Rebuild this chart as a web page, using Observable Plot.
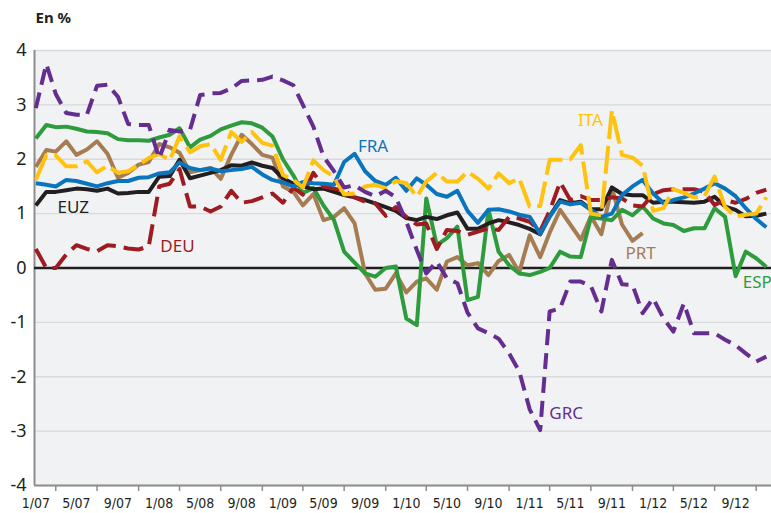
<!DOCTYPE html>
<html>
<head>
<meta charset="utf-8">
<script src="https://cdn.jsdelivr.net/npm/d3@7"></script>
<script src="https://cdn.jsdelivr.net/npm/@observablehq/plot@0.6"></script>
<style>
  html, body { margin: 0; padding: 0; background: #ffffff; }
  #chart svg { display: block; }
</style>
</head>
<body>
<div id="chart"></div>
<script>
// ---- Data (monthly, Jan 2007 – Dec 2012), in % ----
const EUZ = [1.15,1.40,1.40,1.43,1.46,1.45,1.42,1.46,1.37,1.38,1.40,1.40,
  1.68,1.69,1.99,1.65,1.70,1.75,1.80,1.89,1.88,1.94,1.88,1.84,
  1.65,1.55,1.50,1.45,1.46,1.40,1.34,1.30,1.25,1.19,1.12,1.05,
  0.92,0.88,0.94,0.90,0.97,1.02,0.72,0.72,0.82,0.88,0.84,0.79,
  0.72,0.62,0.95,1.25,1.19,1.22,1.08,1.08,1.48,1.36,1.34,1.34,
  1.20,1.22,1.22,1.21,1.20,1.22,1.31,1.13,1.07,0.95,0.96,1.00];
const FRA = [1.56,1.53,1.50,1.62,1.60,1.55,1.50,1.56,1.60,1.60,1.66,1.67,
  1.74,1.76,1.94,1.84,1.80,1.83,1.78,1.80,1.82,1.86,1.72,1.62,
  1.57,1.50,1.58,1.56,1.55,1.53,1.95,2.10,1.78,1.60,1.53,1.66,
  1.42,1.65,1.53,1.36,1.31,1.42,1.05,0.83,1.07,1.08,1.04,0.98,
  0.94,0.63,0.94,1.22,1.17,1.20,1.07,0.94,1.00,1.34,1.50,1.62,
  1.37,1.19,1.25,1.30,1.37,1.46,1.56,1.46,1.32,1.10,0.90,0.75];
const ITA = [1.62,2.08,2.07,1.87,1.87,1.96,1.76,1.88,1.75,1.78,1.90,2.02,
  2.10,1.98,2.42,2.13,2.24,2.28,1.99,2.50,2.32,2.50,2.30,2.25,
  1.71,1.62,1.48,1.98,1.80,1.68,1.35,1.37,1.50,1.53,1.47,1.60,
  1.56,1.31,1.59,1.75,1.59,1.59,1.77,1.64,1.46,1.74,1.56,1.65,
  1.13,1.14,1.99,1.99,2.00,2.26,1.00,0.97,2.90,2.08,2.03,1.88,
  1.05,1.10,1.45,1.38,1.30,1.32,1.68,1.12,0.95,0.98,1.00,1.30];
const DEU = [0.35,0.00,0.00,0.25,0.42,0.35,0.31,0.42,0.40,0.36,0.34,0.40,
  1.50,1.55,1.82,1.13,1.13,1.04,1.13,1.42,1.20,1.23,1.30,1.37,
  1.20,1.48,1.35,1.75,1.50,1.46,1.42,1.30,1.22,1.19,0.96,1.12,
  0.94,0.80,0.82,0.35,0.70,0.68,0.61,0.67,0.73,0.70,0.94,0.91,
  0.85,0.68,1.05,1.58,1.25,1.32,1.25,1.25,1.30,1.28,1.15,1.13,
  1.36,1.43,1.45,1.45,1.45,1.40,1.16,1.25,1.20,1.27,1.38,1.44];
const GRC = [2.94,3.75,3.20,2.85,2.82,2.82,3.35,3.37,3.15,2.65,2.63,2.63,
  2.02,2.54,2.51,2.54,3.18,3.21,3.22,3.30,3.44,3.45,3.46,3.52,
  3.45,3.36,3.00,2.60,2.05,1.78,1.48,1.52,1.40,1.32,1.42,1.30,
  0.85,0.33,-0.10,0.12,-0.19,-0.28,-0.82,-1.11,-1.20,-1.30,-1.57,-1.90,
  -2.60,-2.98,-0.80,-0.74,-0.25,-0.25,-0.33,-0.80,0.15,-0.30,-0.31,-0.83,
  -0.56,-0.93,-1.17,-0.65,-1.20,-1.20,-1.20,-1.32,-1.42,-1.57,-1.72,-1.63];
const PRT = [1.86,2.17,2.14,2.33,2.08,2.18,2.33,2.10,1.66,1.75,1.90,1.95,
  2.28,2.22,2.12,1.76,1.80,1.84,1.64,2.08,2.45,2.28,2.08,2.03,
  1.50,1.40,1.15,1.36,0.88,0.94,1.10,0.82,-0.10,-0.40,-0.38,-0.10,
  -0.45,-0.25,-0.19,-0.40,0.12,0.20,0.05,0.09,-0.13,0.13,0.24,-0.08,
  0.60,0.20,0.65,1.07,0.80,0.52,0.95,0.62,1.48,0.80,0.50,0.64,
  null,null,null,null,null,null,null,null,null,null,null,null];
const ESP = [2.38,2.63,2.59,2.60,2.56,2.51,2.50,2.48,2.37,2.35,2.35,2.34,
  2.40,2.45,2.57,2.22,2.36,2.43,2.55,2.62,2.68,2.66,2.58,2.42,
  2.00,1.70,1.38,1.47,1.15,0.88,0.30,0.10,-0.10,-0.16,0.00,0.03,
  -0.93,-1.05,1.28,0.42,0.55,0.76,-0.59,-0.53,1.07,0.30,0.05,-0.10,
  -0.13,-0.07,0.00,0.30,0.21,0.20,0.93,0.91,0.88,1.07,0.97,1.13,
  0.91,0.82,0.79,0.68,0.73,0.73,1.10,0.94,-0.15,0.30,0.18,0.02];

const xTickLabels = ["1/07","5/07","9/07","1/08","5/08","9/08","1/09","5/09","9/09",
  "1/10","5/10","9/10","1/11","5/11","9/11","1/12","5/12","9/12"];
const yTicks = [-4,-3,-2,-1,0,1,2,3,4];

// ---- helpers ----
const MS_MONTH = 30.4375 * 86400000;
const T0 = Date.UTC(2007, 0, 1);
const monthPos = m => new Date(T0 + m * MS_MONTH);
const months = d3.range(72).map(i => new Date(Date.UTC(2007, i, 1)));
const parseLabel = s => { const [m, y] = s.split("/").map(Number); return new Date(Date.UTC(2000 + y, m - 1, 1)); };
const labelDates = xTickLabels.map(parseLabel);
const tickDates = labelDates.map(d => new Date(Date.UTC(d.getUTCFullYear(), d.getUTCMonth() + 2, 1)));
const fmt = d => `${d.getUTCMonth() + 1}/${String(d.getUTCFullYear()).slice(2)}`;

const series = [
  {name: "PRT", values: PRT, color: "#a67c52", dash: null},
  {name: "ESP", values: ESP, color: "#2e9b3c", dash: null},
  {name: "EUZ", values: EUZ, color: "#231f20", dash: null},
  {name: "DEU", values: DEU, color: "#9e1b22", dash: "20,8"},
  {name: "FRA", values: FRA, color: "#0a75bd", dash: null},
  {name: "ITA", values: ITA, color: "#ffc20e", dash: "28,7"},
  {name: "GRC", values: GRC, color: "#662d91", dash: "16,8"}
];
const colorOf = Object.fromEntries(series.map(s => [s.name, s.color]));

const labels = [
  {name: "EUZ", m: 2.1, v: 1.12},
  {name: "DEU", m: 12.1, v: 0.40},
  {name: "FRA", m: 31.3, v: 2.24},
  {name: "ITA", m: 52.7, v: 2.72},
  {name: "PRT", m: 57.3, v: 0.26},
  {name: "GRC", m: 49.9, v: -2.67},
  {name: "ESP", m: 68.7, v: -0.26}
];

const FONT = "'Noto Sans', 'Open Sans', sans-serif";
const NARROW = "'Liberation Sans Narrow', 'DejaVu Sans Condensed', sans-serif";

const chart = Plot.plot({
  width: 771,
  height: 513,
  marginLeft: 34,
  marginRight: 0,
  marginTop: 50,
  marginBottom: 28,
  style: {fontFamily: FONT, background: "#ffffff", color: "#231f20", overflow: "visible"},
  x: {type: "utc", domain: [monthPos(-0.13), monthPos(71.5)], axis: null, label: null},
  y: {domain: [-4, 4], axis: null, label: null},
  marks: [
    Plot.frame({fill: "#f1f2f4", stroke: null}),
    Plot.gridY(yTicks, {stroke: "#d8d9db", strokeOpacity: 1, strokeWidth: 1.3}),
    Plot.axisY(yTicks, {anchor: "left", label: null, tickSize: 0, tickPadding: 8, fontSize: 18, fill: "#231f20", tickFormat: d => String(d)}),
    Plot.axisX(labelDates, {anchor: "bottom", label: null, tickSize: 0, tickPadding: 13, fontSize: 14, fontFamily: NARROW, fill: "#231f20", tickFormat: fmt}),
    Plot.axisX(tickDates, {anchor: "bottom", label: null, tickSize: 6, stroke: "#8d8d8d", strokeWidth: 1.5, tickFormat: () => ""}),
    Plot.ruleY([-4], {stroke: "#8d8d8d", strokeWidth: 2}),
    Plot.ruleX([monthPos(-0.13)], {stroke: "#8d8d8d", strokeWidth: 2}),
    Plot.ruleY([0], {stroke: "#231f20", strokeWidth: 2.4}),
    ...series.map(s => Plot.lineY(s.values, {
      x: (d, i) => months[i],
      y: d => d,
      stroke: s.color,
      strokeWidth: 4,
      strokeDasharray: s.dash,
      strokeLinejoin: "round",
      strokeLinecap: "butt"
    })),
    Plot.text(labels, {
      x: d => monthPos(d.m), y: d => d.v, text: d => d.name,
      fill: d => colorOf[d.name], fontSize: 17, textAnchor: "start", lineAnchor: "middle"
    }),
    Plot.text(["En %"], {frameAnchor: "top-left", dx: 1, dy: -32, textAnchor: "start", lineAnchor: "middle",
      fontSize: 15, fontWeight: "bold", fill: "#231f20"})
  ]
});
document.getElementById("chart").appendChild(chart);
</script>
</body>
</html>
